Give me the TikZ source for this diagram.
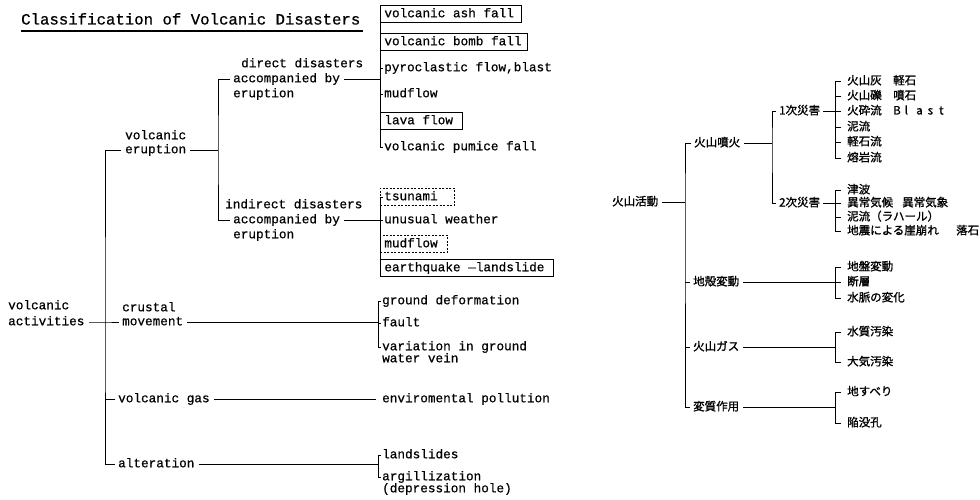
\documentclass[tikz,border=0pt]{standalone}
\usepackage{fontspec}
\newfontfamily\entt{Liberation Mono}[FakeBold=0.6]
\newfontfamily\jpf{Noto Sans CJK JP}[FakeBold=1.2]
\newcommand{\spc}[1]{\makebox[11.5pt][l]{#1}}
\tikzset{
  en/.style={font=\entt\fontsize{12.7}{14}\selectfont, anchor=west, inner sep=0pt, text height=8pt, text depth=1.5pt},
  item/.style={en, inner xsep=4pt, inner ysep=4pt},
  sbox/.style={draw, line width=0.8pt},
  dbox/.style={draw, dash pattern=on 2pt off 1.5pt, line width=0.7pt},
  jp/.style={font=\jpf\fontsize{11.5}{13}\selectfont, anchor=west, inner sep=0pt, text height=9pt, text depth=2pt},
  ln/.style={line width=0.8pt},
  ttl/.style={font=\entt\fontsize{15.7}{18}\selectfont, anchor=west, inner sep=0pt, text height=10pt, text depth=3pt},
}
\begin{document}
\begin{tikzpicture}[x=1pt,y=-1pt]
\useasboundingbox[fill=white] (0,0) rectangle (980,500);
% ---------------- left tree ----------------
\node[ttl] (title) at (21,21) {Classification of Volcanic Disasters};
\draw[line width=2.2pt] ([yshift=-3pt]title.south west) -- ([yshift=-3pt,xshift=2pt]title.south east);

% level 3 (direct)
\node[item,sbox] (ash) at (380,14) {\makebox[133pt][l]{volcanic ash fall}};
\node[item,sbox] (bomb) at (380,42) {\makebox[139pt][l]{volcanic bomb fall}};
\node[item] (pyro) at (380,68) {pyroclastic flow,blast};
\node[item] (mud1) at (380,94) {mudflow};
\node[item,sbox] (lava) at (380,121) {\makebox[74pt][l]{lava flow}};
\node[item] (pum) at (380,147) {volcanic pumice fall};
% level 3 (indirect)
\node[item,dbox] (tsu) at (380,197) {\makebox[66pt][l]{tsunami}};
\node[item] (unw) at (380,220) {unusual weather};
\node[item,dbox] (mud2) at (380,244) {\makebox[59pt][l]{mudflow}};
\node[item,sbox] (eq) at (380,268) {\makebox[165pt][l]{earthquake —landslide}};
% level 3 (others)
\node[item] (gd) at (378,301) {ground deformation};
\node[item] (fault) at (378,323) {fault};
\node[item] (var) at (378,347) {variation in ground};
\node[item] (wv) at (378,359) {water vein};
\node[item] (env) at (378,399) {enviromental pollution};
\node[item] (lsl) at (378,455) {landslides};
\node[item] (arg) at (378,477) {argillization};
\node[item] (dep) at (378,489) {(depression hole)};

% level 2
\node[en] (dd1) at (241,64) {direct disasters};
\node[en] (dd2) at (233,79) {accompanied by};
\node[en] (dd3) at (233,94) {eruption};
\node[en] (id1) at (225,205) {indirect disasters};
\node[en] (id2) at (233,220) {accompanied by};
\node[en] (id3) at (233,235) {eruption};

% level 1
\node[en] (ve1) at (125,136) {volcanic};
\node[en] (ve2) at (125,150) {eruption};
\node[en] (cm1) at (122,308) {crustal};
\node[en] (cm2) at (122,322) {movement};
\node[en] (gas) at (118,399) {volcanic gas};
\node[en] (alt) at (118,464) {alteration};
\node[en] (va1) at (8,306) {volcanic};
\node[en] (va2) at (8,322) {activities};

\coordinate (t1) at (105,322);
\coordinate (t2) at (218,150);

% connectors left
\draw[ln] ([xshift=-4pt]ve2.west) -| (t1) |- ([xshift=-3pt]alt.west);
\draw[ln] ([xshift=4pt]va2.east) -- (t1) -- ([xshift=-3pt]cm2.west);
\draw[ln] ([xshift=-3pt]gas.west) -- (gas -| t1);
\draw[ln] ([xshift=4pt]ve2.east) -- (t2);
\draw[ln] ([xshift=-3pt]dd2.west) -| (t2) |- ([xshift=-3pt]id2.west);
\draw[ln] ([xshift=4pt]dd2.east) -- (dd2 -| ash.west);
\draw[ln] ([xshift=4pt]id2.east) -- (id2 -| tsu.west);
\draw[ln] (ash.west) -- (pum.west) -- ++(3,0);
\draw[ln] (pyro.west) -- ++(3,0);
\draw[ln] (mud1.west) -- ++(3,0);
\draw[ln] ([xshift=3pt]tsu.west) -- (tsu.west) -- (eq.west);
\draw[ln] (unw.west) -- ++(3,0);
\draw[ln] ([xshift=4pt]cm2.east) -- (cm2 -| fault.west);
\draw[ln] ([xshift=3pt]gd.west) -- (gd.west) -- (var.west) -- ++(3,0);
\draw[ln] (fault.west) -- ++(3,0);
\draw[ln] ([xshift=4pt]gas.east) -- ([xshift=-2pt]env.west);
\draw[ln] ([xshift=4pt]alt.east) -- (alt -| lsl.west);
\draw[ln] ([xshift=3pt]lsl.west) -- (lsl.west) -- (arg.west) -- ++(3,0);

% ---------------- right tree ----------------
\node[jp] (ka) at (612,202) {火山活動};
\node[jp] (fn) at (694,143) {火山噴火};
\node[jp] (ck) at (693,282) {地殻変動};
\node[jp] (vg) at (693,347) {火山ガス};
\node[jp] (hs) at (693,407) {変質作用};
\node[jp] (d1) at (779,111) {1次災害};
\node[jp] (d2) at (779,203) {2次災害};

\node[jp] (a1) at (847,81) {火山灰};
\node[jp] (a1b) at (893,81) {軽石};
\node[jp] (a2) at (847,96) {火山礫};
\node[jp] (a2b) at (893,96) {噴石};
\node[jp] (a3) at (847,111) {火砕流};
\node[jp] (a3b) at (893,111) {\spc{B}\spc{l}\spc{a}\spc{s}t};
\node[jp] (a4) at (847,127) {泥流};
\node[jp] (a5) at (847,142) {軽石流};
\node[jp] (a6) at (847,158) {熔岩流};

\node[jp] (b1) at (847,190) {津波};
\node[jp] (b2) at (847,203) {異常気候};
\node[jp] (b2b) at (902,203) {異常気象};
\node[jp] (b3) at (847,217) {泥流（ラハール）};
\node[jp] (b4) at (847,231) {地震による崖崩れ};
\node[jp] (b4b) at (956,231) {落石};

\node[jp] (c1) at (847,267) {地盤変動};
\node[jp] (c2) at (847,282) {断層};
\node[jp] (c3) at (847,298) {水脈の変化};
\node[jp] (e1) at (847,332) {水質汚染};
\node[jp] (e2) at (847,362) {大気汚染};
\node[jp] (f1) at (847,392) {地すべり};
\node[jp] (f2) at (847,423) {陥没孔};

\coordinate (T1) at (685,202);
\coordinate (T2) at (772,143);
\coordinate (B1) at (835,111);

\draw[ln] ([xshift=4pt]ka.east) -- (T1);
\draw[ln] ([xshift=-3pt]fn.west) -| (T1) |- ([xshift=-3pt]hs.west);
\draw[ln] ([xshift=-3pt]ck.west) -- (ck -| T1);
\draw[ln] ([xshift=-3pt]vg.west) -- (vg -| T1);
\draw[ln] ([xshift=4pt]fn.east) -- (T2);
\draw[ln] ([xshift=-3pt]d1.west) -| (T2) |- ([xshift=-3pt]d2.west);
\draw[ln] ([xshift=3pt]d1.east) -- (d1 -| B1);
\draw[ln] ([xshift=3pt]d2.east) -- (d2 -| B1);
\draw[ln] ([xshift=4pt]ck.east) -- (ck -| B1);
\draw[ln] ([xshift=4pt]vg.east) -- (vg -| B1);
\draw[ln] ([xshift=4pt]hs.east) -- (hs -| B1);
% brackets
\foreach \t/\b in {a1/a6,b1/b4,c1/c3,e1/e2,f1/f2}{
  \draw[ln] ([xshift=-6pt]\t.west) -- (\t -| B1) -- (\b -| B1) -- ([xshift=-6pt]\b.west);
}
\foreach \m in {a2,a3,a4,a5,b2,b3,c2}{
  \draw[ln] (\m -| B1) -- ([xshift=-6pt]\m.west);
}
\end{tikzpicture}
\end{document}
